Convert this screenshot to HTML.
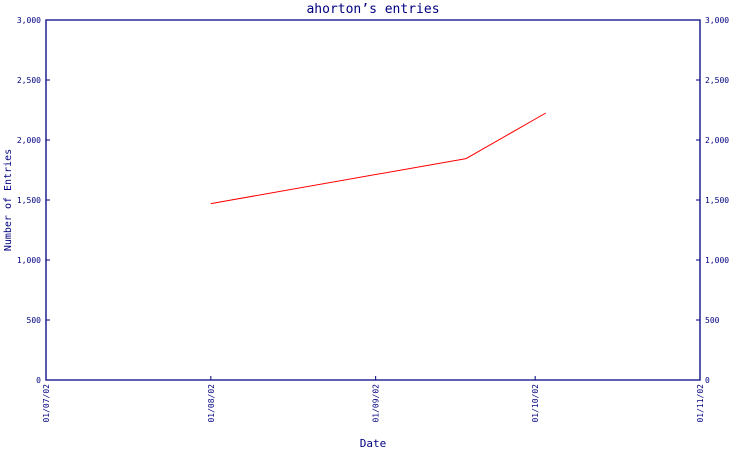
<!DOCTYPE html>
<html><head><meta charset="utf-8"><style>
body{margin:0;background:#fff}
svg text{font-family:"DejaVu Sans Mono","Liberation Mono",monospace;fill:#000080}
</style></head><body>
<svg id="chart" width="750" height="450" xmlns="http://www.w3.org/2000/svg">
<text x="373" y="13" font-size="13" text-anchor="middle">ahorton’s entries</text>
<text transform="translate(11,200) rotate(-90)" font-size="10" text-anchor="middle">Number of Entries</text>
<text x="373" y="447" font-size="11" text-anchor="middle">Date</text>
<g id="axes"></g>
<g id="series"></g>
</svg>
<script>
// days since 2002-07-01
const pointDays = [31, 79, 94];
const pointValues = [1470, 1845, 2225];
const xTickDays = [0, 31, 62, 92, 123];
const xTickLabels = ["01/07/02","01/08/02","01/09/02","01/10/02","01/11/02"];
const yTicks = [0, 500, 1000, 1500, 2000, 2500, 3000];
const yTickLabels = ["0","500","1,000","1,500","2,000","2,500","3,000"];

const L=46,R=700,T=20,B=380,NS="http://www.w3.org/2000/svg";
const xs=d=>L+(d-0)/123*(R-L);
const ys=v=>B-v/3000*(B-T);
const axes=document.getElementById('axes'), series=document.getElementById('series');
function mk(tag,attrs,parent,text){const e=document.createElementNS(NS,tag);for(const k in attrs)e.setAttribute(k,attrs[k]);if(text!==undefined)e.textContent=text;parent.appendChild(e);return e;}

const frame=mk('path',{d:`M${L},${T}H${R}V${B}H${L}Z`,fill:'none',stroke:'#000080','stroke-width':1.3},axes);



yTicks.forEach((v,i)=>{
  const y=ys(v);
  const t1=mk('line',{x1:L,x2:L+4,y1:y,y2:y,stroke:'#000080'},axes);
  
  
  const t2=mk('line',{x1:R-4,x2:R,y1:y,y2:y,stroke:'#000080'},axes);
  
  
  const lb=mk('text',{x:L-5,y:y+3,'font-size':8,'text-anchor':'end'},axes,yTickLabels[i]);
  
  
  const rb=mk('text',{x:R+5,y:y+3,'font-size':8,'text-anchor':'start'},axes,yTickLabels[i]);
  
  
});
xTickDays.forEach((d,i)=>{
  const x=xs(d);
  const t=mk('line',{x1:x,x2:x,y1:B-4,y2:B,stroke:'#000080'},axes);
  
  
  const lb=mk('text',{transform:`translate(${x+3},${384}) rotate(-90)`,'font-size':8,'text-anchor':'end'},axes,xTickLabels[i]);
  
  
});
const line=mk('polyline',{points:pointDays.map((d,i)=>xs(d)+','+ys(pointValues[i])).join(' '),fill:'none',stroke:'#ff0000','stroke-width':1},series);


</script>
</body></html>
